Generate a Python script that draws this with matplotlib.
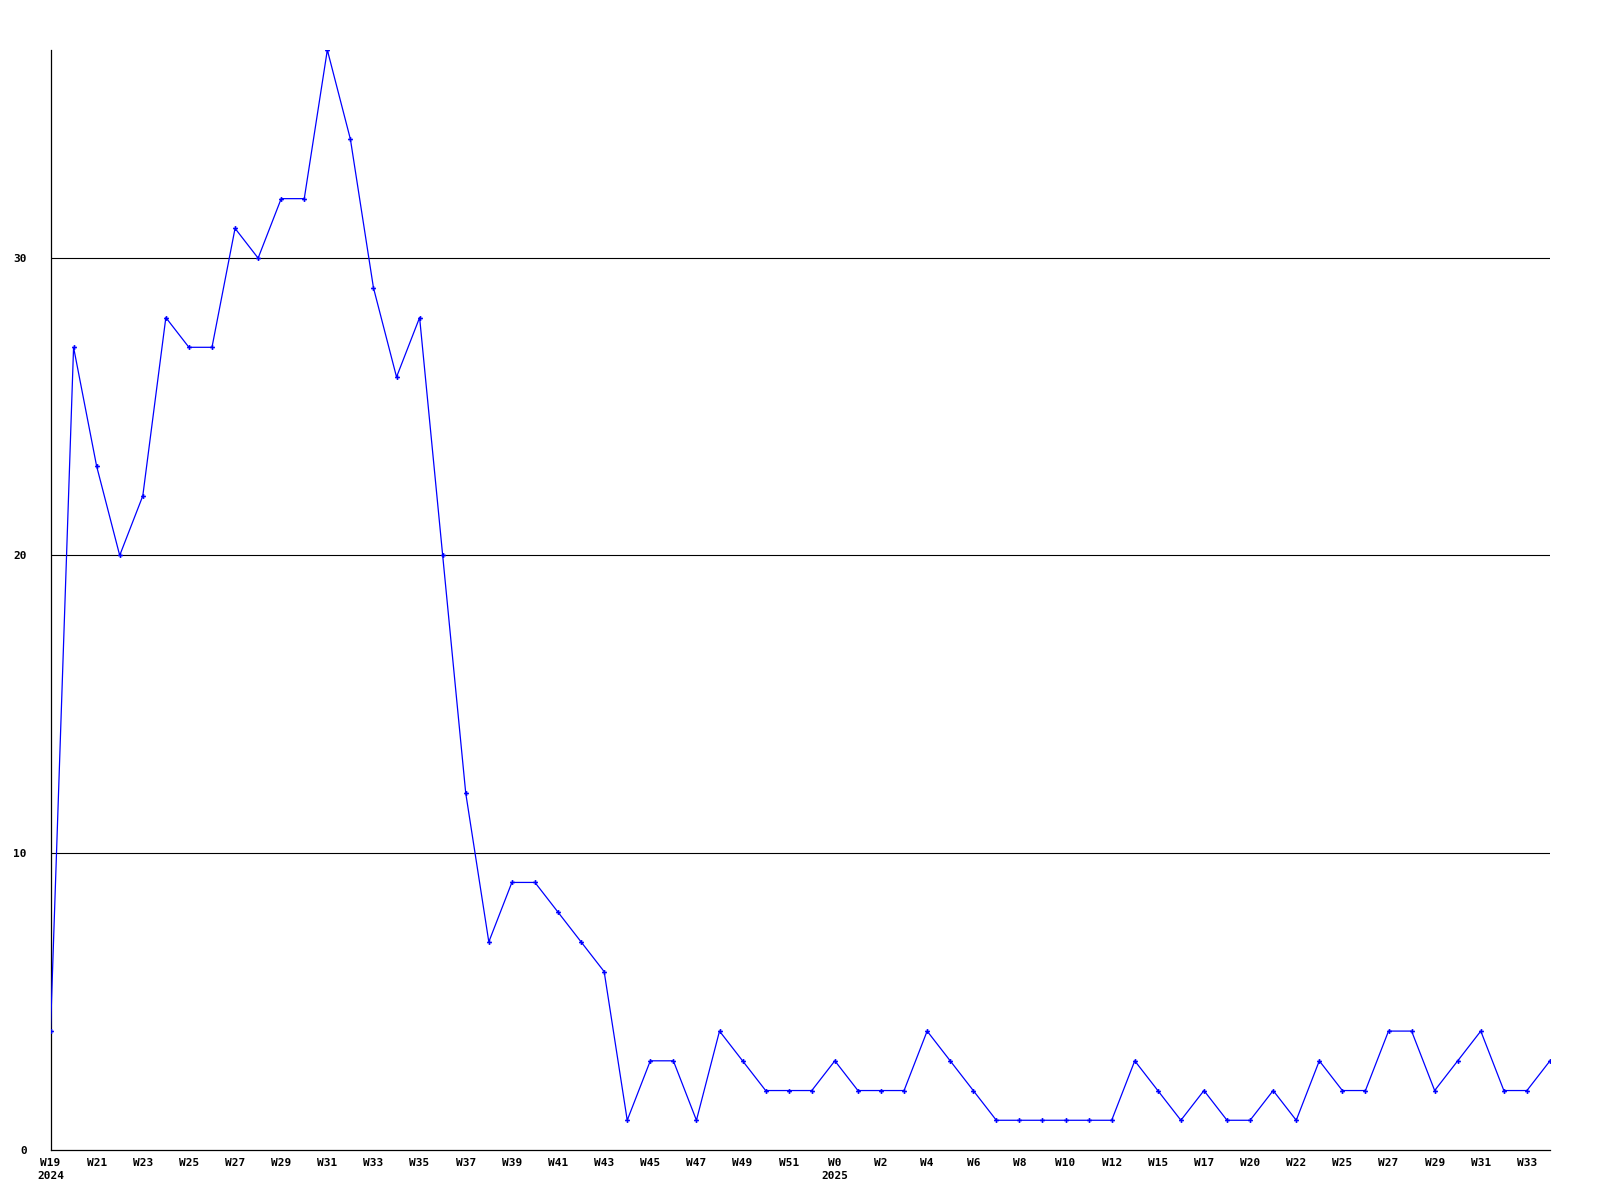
import matplotlib
matplotlib.use("Agg")
import matplotlib.pyplot as plt

values = [4, 27, 23, 20, 22, 28, 27, 27, 31, 30, 32, 32, 37, 34, 29, 26, 28, 20, 12, 7,
          9, 9, 8, 7, 6, 1, 3, 3, 1, 4, 3, 2, 2, 2, 3, 2, 2, 2, 4, 3,
          2, 1, 1, 1, 1, 1, 1, 3, 2, 1, 2, 1, 1, 2, 1, 3, 2, 2, 4, 4,
          2, 3, 4, 2, 2, 3]
tick_labels = ["W19\n2024", "W21", "W23", "W25", "W27", "W29", "W31", "W33", "W35", "W37",
               "W39", "W41", "W43", "W45", "W47", "W49", "W51", "W0\n2025", "W2", "W4",
               "W6", "W8", "W10", "W12", "W15", "W17", "W20", "W22", "W25", "W27",
               "W29", "W31", "W33"]
y_ticks = [0, 10, 20, 30]

fig = plt.figure(figsize=(16, 12), dpi=100)
ax = fig.add_axes([50.5 / 1600, 1 - 1150 / 1200, (1550 - 50.5) / 1600, 1100 / 1200])

x = list(range(len(values)))
ax.plot(x, values, color="#0000ff", lw=0.9, marker="P", ms=3.5, mew=0, zorder=3)

ax.set_xlim(0, len(values) - 1)
ax.set_ylim(0, 37)
for y in y_ticks[1:]:
    ax.axhline(y, color="black", lw=0.8, zorder=1)

ax.set_xticks(x[::2])
ax.set_xticklabels(tick_labels, ha="center", va="top", linespacing=1.3)
ax.set_yticks(y_ticks)
ax.set_yticklabels([str(v) for v in y_ticks])
font = dict(family="DejaVu Sans Mono", weight="bold", size=8)
for lab in ax.get_xticklabels() + ax.get_yticklabels():
    lab.set_fontfamily(font["family"])
    lab.set_fontweight(font["weight"])
    lab.set_fontsize(font["size"])
ax.tick_params(axis="both", length=0)
ax.tick_params(axis="x", pad=6)
ax.tick_params(axis="y", pad=17)

ax.spines["top"].set_visible(False)
ax.spines["right"].set_visible(False)
ax.spines["left"].set_linewidth(0.9)
ax.spines["bottom"].set_linewidth(0.9)

fig.savefig("out.png", dpi=100, facecolor="white")
